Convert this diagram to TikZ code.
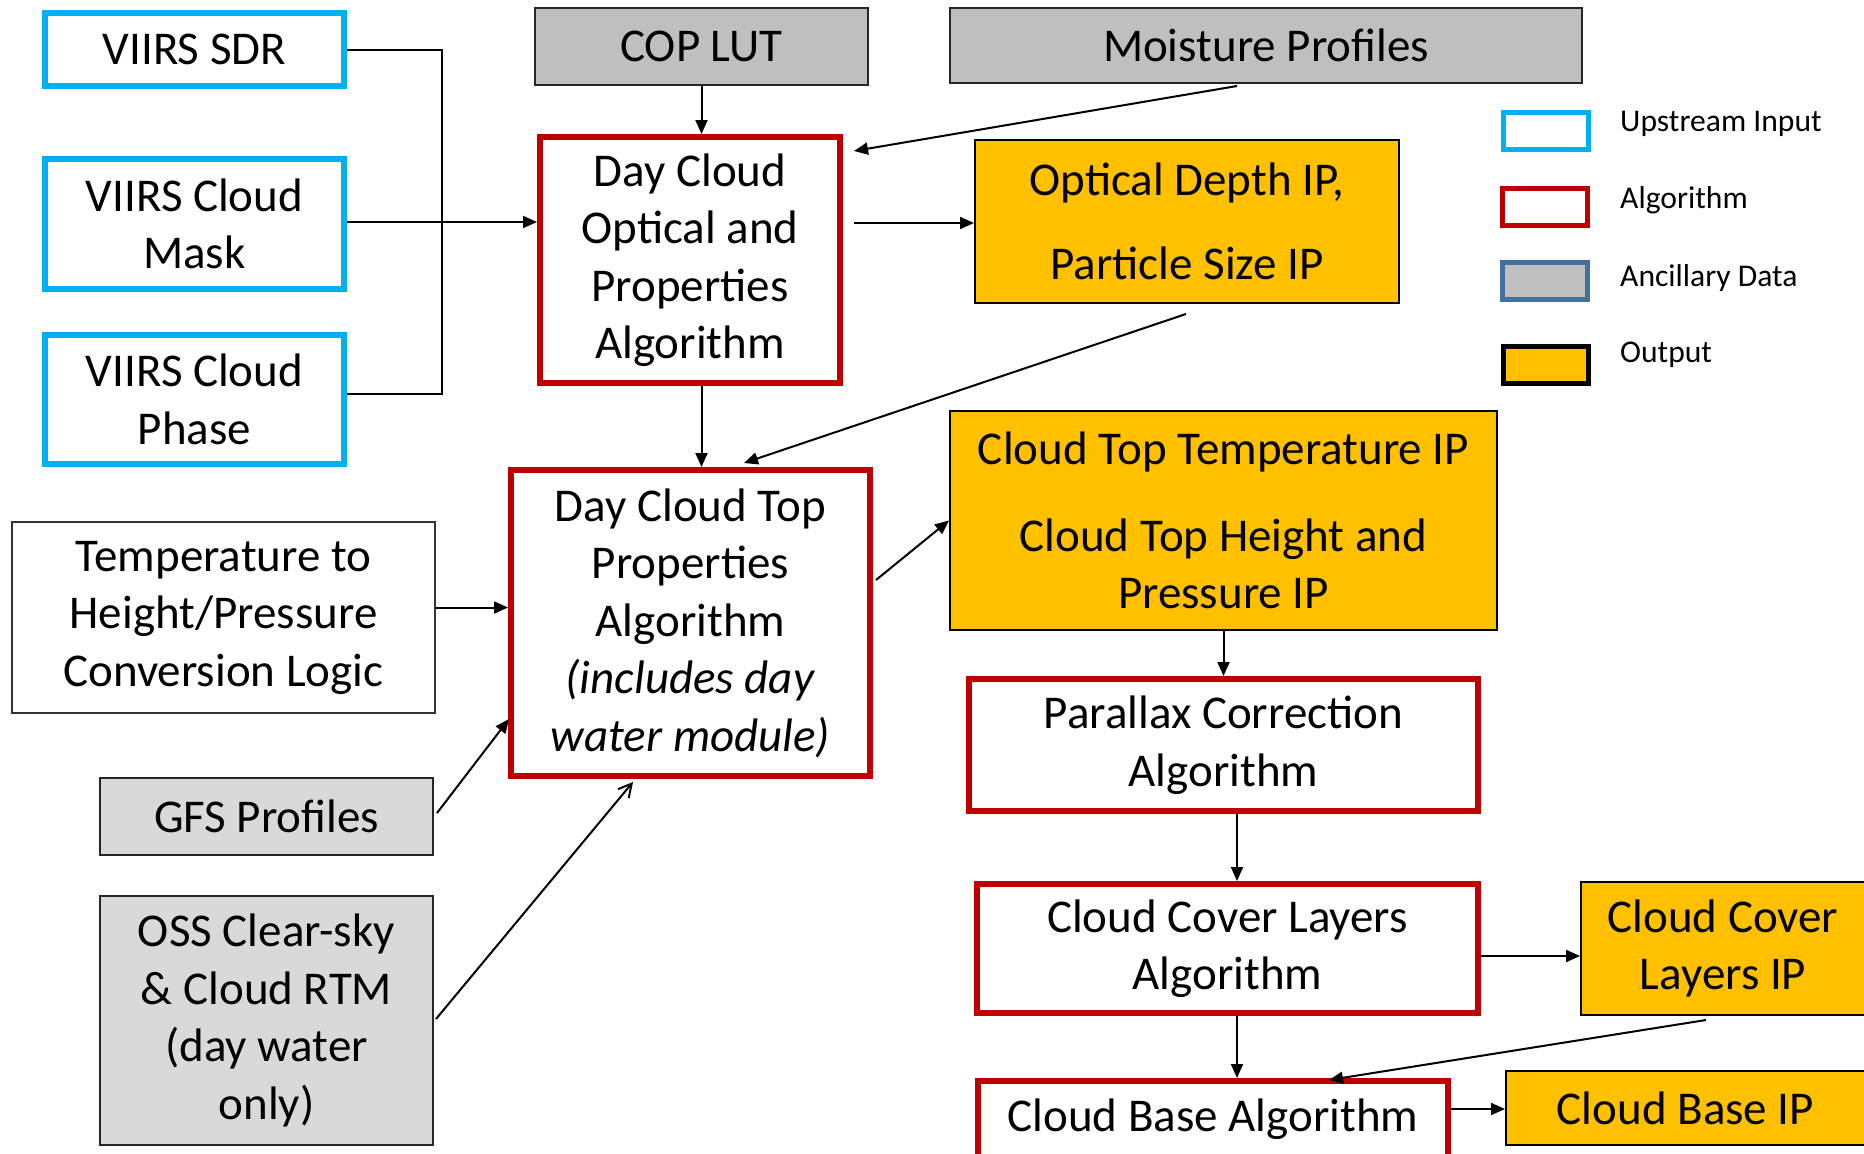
\documentclass[tikz,border=0pt]{standalone}
\usepackage{fontspec}
\setmainfont{Carlito}
\usetikzlibrary{arrows.meta,calc}
\definecolor{upblue}{HTML}{00B0F0}
\definecolor{algred}{HTML}{C00000}
\definecolor{ancgray}{HTML}{BFBFBF}
\definecolor{anclight}{HTML}{D9D9D9}
\definecolor{outorange}{HTML}{FFC000}
\definecolor{legblue}{HTML}{41719C}
\begin{document}
\begin{tikzpicture}[x=1pt,y=-1pt,
  box/.style={rectangle, draw, align=center, inner sep=0pt, text=black, font=\fontsize{47}{57.5}\selectfont},
  inbox/.style={box, draw=upblue, line width=6pt, fill=white},
  algbox/.style={box, draw=algred, line width=6pt, fill=white},
  ancbox/.style={box, draw=black!85, line width=2pt, fill=ancgray},
  anclbox/.style={box, draw=black!85, line width=2pt, fill=anclight},
  plainbox/.style={box, draw=black!80, line width=2pt, fill=white},
  outbox/.style={box, draw=black, line width=2pt, fill=outorange},
  legtext/.style={anchor=west, inner sep=0pt, font=\fontsize{31.6}{38}\selectfont},
  conn/.style={line width=2pt, -{Triangle[length=14pt,width=12pt]}},
  plain/.style={line width=2pt},
  openconn/.style={line width=2pt, -{Straight Barb[length=13pt,width=14pt]}}
]
\useasboundingbox (0,0) rectangle (1864,1154);
\clip (0,0) rectangle (1864,1154);

% inputs
\node[inbox, minimum width=299pt, minimum height=73pt] (sdr) at (194.5,49.5) {VIIRS SDR};
\node[inbox, minimum width=299pt, minimum height=130pt] (mask) at (194.5,224) {VIIRS Cloud\\Mask};
\node[inbox, minimum width=299pt, minimum height=129pt] (phase) at (194.5,399.5) {VIIRS Cloud\\Phase};
\node[ancbox, minimum width=333pt, minimum height=77pt] (cop) at (701.5,46.5) {COP LUT};
\node[ancbox, minimum width=632pt, minimum height=75pt] (moist) at (1266,45.5) {Moisture Profiles};

% algorithms and outputs
\node[algbox, minimum width=300pt, minimum height=246pt] (dco) at (690,260) {Day Cloud\\Optical and\\Properties\\Algorithm};
\node[outbox, minimum width=424pt, minimum height=163pt] (odout) at (1187,221.5) {Optical Depth IP,\\[27pt]Particle Size IP};
\node[algbox, minimum width=359pt, minimum height=306pt] (dct) at (690.5,623) {Day Cloud Top\\Properties\\Algorithm\\\textit{(includes day}\\\textit{water module)}};
\node[plainbox, minimum width=423pt, minimum height=191pt] (temp) at (223.5,617.5) {Temperature to\\Height/Pressure\\Conversion Logic};
\node[anclbox, minimum width=333pt, minimum height=77pt] (gfs) at (266.5,816.5) {GFS Profiles};
\node[anclbox, minimum width=333pt, minimum height=249pt] (oss) at (266.5,1020.5) {OSS Clear-sky\\\& Cloud RTM\\(day water\\only)};
\node[outbox, minimum width=547pt, minimum height=219pt] (ctt) at (1223.5,520.5) {Cloud Top Temperature IP\\[29pt]Cloud Top Height and\\Pressure IP};
\node[algbox, minimum width=509pt, minimum height=132pt] (par) at (1223.5,745) {Parallax Correction\\Algorithm};
\node[algbox, minimum width=501pt, minimum height=129pt] (ccl) at (1227.5,948.5) {Cloud Cover Layers\\Algorithm};
\node[outbox, minimum width=284pt, minimum height=133pt] (cclip) at (1723,948.5) {Cloud Cover\\Layers IP};
\node[algbox, minimum width=470pt, minimum height=76pt] (cba) at (1213,1119) {Cloud Base Algorithm};
\node[outbox, minimum width=359pt, minimum height=74pt] (cbip) at (1685.5,1108) {Cloud Base IP};

% legend
\node[draw=upblue, line width=5pt, fill=white, minimum width=85pt, minimum height=37pt, inner sep=0pt] (lup) at (1546,131) {};
\node[draw=algred, line width=5pt, fill=white, minimum width=85pt, minimum height=37pt, inner sep=0pt] (lalg) at (1545,207) {};
\node[draw=legblue, line width=5pt, fill=ancgray, minimum width=85pt, minimum height=37pt, inner sep=0pt] (lanc) at (1545,281) {};
\node[draw=black, line width=5pt, fill=outorange, minimum width=85pt, minimum height=37pt, inner sep=0pt] (lout) at (1546,365) {};
\node[legtext] (tup) at (1620,124) {Upstream Input};
\node[legtext] (talg) at (1620,200) {Algorithm};
\node[legtext] (tanc) at (1620,278) {Ancillary Data};
\node[legtext] (tout) at (1620,355) {Output};

% connector helper coordinates
\coordinate (bar) at (442,221);
\coordinate (mk) at ($(mask.east)+(0,-2)$);
\coordinate (ph) at ($(phase.east)+(0,-6)$);
\coordinate (tp) at ($(temp.east)+(0,-10)$);
\coordinate (mtail) at (1237,86);
\coordinate (mtip) at (854,151);
\coordinate (dcor) at (854,223);
\coordinate (odtail) at (1186,314);
\coordinate (odtip) at (744,463);
\coordinate (gtail) at (437,813);
\coordinate (gtip) at (509,719);
\coordinate (otail) at (436,1019);
\coordinate (otip) at (633,782);
\coordinate (dcttail) at (876,580);
\coordinate (pc) at (1237,0);
\coordinate (cltail) at (1706,1020);
\coordinate (cltip) at (1329,1080);
\coordinate (ccly) at (0,956);
\coordinate (cby) at (0,1109);

% connectors
\draw[plain] (sdr.east) -| (bar) |- (ph);
\draw[conn] (mk) -- (mk -| dco.west);
\draw[conn] (cop.south) -- (cop.south |- dco.north);
\draw[conn] (mtail) -- (mtip);
\draw[conn] (dcor) -- (dcor -| odout.west);
\draw[conn] (odtail) -- (odtip);
\draw[conn] (cop.south |- dco.south) -- (cop.south |- dct.north);
\draw[conn] (tp) -- (tp -| dct.west);
\draw[conn] (gtail) -- (gtip);
\draw[openconn] (otail) -- (otip);
\draw[conn] (dcttail) -- (ctt.west);
\draw[conn] (ctt.south) -- (ctt.south |- par.north);
\draw[conn] (pc |- par.south) -- (pc |- ccl.north);
\draw[conn] (ccl.east |- ccly) -- (cclip.west |- ccly);
\draw[conn] (pc |- ccl.south) -- (pc |- cba.north);
\draw[conn] (cltail) -- (cltip);
\draw[conn] (cba.east |- cby) -- (cbip.west |- cby);
\end{tikzpicture}
\end{document}
